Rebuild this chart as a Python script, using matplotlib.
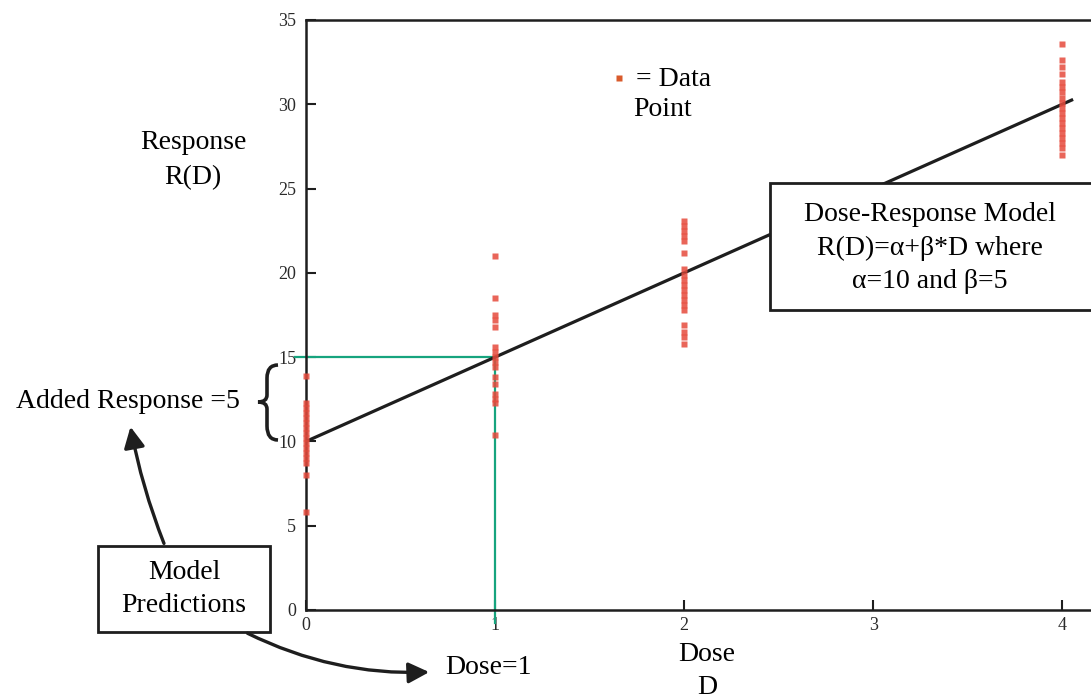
import numpy as np
import matplotlib.pyplot as plt
from matplotlib.patches import Rectangle, FancyArrowPatch, PathPatch
from matplotlib.path import Path

plt.rcParams['font.family'] = ['Liberation Serif', 'DejaVu Serif']

dose_levels = [0, 1, 2, 4]
resp_d0 = [13.9, 12.3, 12.0, 11.7, 11.4, 11.1, 10.8, 10.5, 10.2, 9.9, 9.6, 9.3, 9.0, 8.7, 8.0, 5.8]
resp_d1 = [21.0, 18.5, 17.5, 17.2, 16.8, 15.6, 15.3, 15.0, 14.7, 14.4, 13.8, 13.4, 12.8, 12.5, 12.3, 10.4]
resp_d2 = [23.1, 22.8, 22.5, 22.2, 21.9, 21.2, 20.2, 19.9, 19.6, 19.3, 19.0, 18.7, 18.4, 18.1, 17.8,
           16.9, 16.5, 16.2, 15.8]
resp_d4 = [33.6, 32.6, 32.2, 31.8, 31.3, 31.0, 30.7, 30.4, 30.1, 29.8, 29.5, 29.2, 28.9, 28.6, 28.3,
           28.0, 27.7, 27.4, 27.0]

alpha, beta = 10, 5
line_dose = [0, 4.05]
ref_dose = 1
xticks = [0, 1, 2, 3, 4]
yticks = [0, 5, 10, 15, 20, 25, 30, 35]

W, H = 1091, 699
fig = plt.figure(figsize=(W / 100, H / 100), dpi=100)


def px(x, y):
    # pixel position (from top-left) -> figure fraction
    return x / W, 1 - y / H


ax = fig.add_axes([306 / W, 89 / H, 794 / W, 590 / H])
ax.set_xlim(0, 4.2)
ax.set_ylim(0, 35)

red = '#e64a3c'
for d, vals in zip(dose_levels, [resp_d0, resp_d1, resp_d2, resp_d4]):
    ax.plot([d] * len(vals), vals, 's', ms=4, color=red, mec='none', alpha=0.85, zorder=4, clip_on=False)

xs = np.array(line_dose)
ax.plot(xs, alpha + beta * xs, color='#1e1e1e', lw=2.3, zorder=3)

# green guide lines for dose = 1
green = '#16a47e'
ax.plot([-0.06, ref_dose], [alpha + beta * ref_dose] * 2, color=green, lw=1.6, clip_on=False, zorder=2)
ax.plot([ref_dose, ref_dose], [-0.75, alpha + beta * ref_dose], color=green, lw=1.6, clip_on=False, zorder=2)

for side in ['top', 'left', 'bottom']:
    ax.spines[side].set_linewidth(1.8)
    ax.spines[side].set_color('#1e1e1e')
ax.spines['right'].set_visible(False)
ax.set_xticks(xticks)
ax.set_yticks(yticks)
ax.tick_params(direction='in', length=7, width=1.5, labelsize=13, colors='#1e1e1e', labelcolor='#2a2a2a')
ax.tick_params(axis='x', pad=5)
ax.tick_params(axis='y', pad=7)

fs = 20
fig.text(*px(193, 160), 'Response\nR(D)', ha='center', va='center', fontsize=fs, linespacing=1.5)
fig.text(*px(707, 671), 'Dose\nD', ha='center', va='center', fontsize=fs, linespacing=1.46)

# legend-ish note
fig.lines.append(plt.Line2D([619 / W], [1 - 78 / H], marker='s', ms=4.5, color='#d95a2b', mec='none',
                            transform=fig.transFigure))
fig.text(*px(636, 80), '= Data', ha='left', va='center', fontsize=fs)
fig.text(*px(663, 110), 'Point', ha='center', va='center', fontsize=fs)

# model box
fig.patches.append(Rectangle(px(770, 310), 340 / W, 127 / H, transform=fig.transFigure,
                             facecolor='white', edgecolor='#1e1e1e', lw=2, zorder=2))
fig.text(*px(930, 248), 'Dose-Response Model\nR(D)=α+β*D where\nα=10 and β=5', ha='center', va='center',
         fontsize=fs, linespacing=1.45, zorder=3)

# predictions box
fig.patches.append(Rectangle(px(98, 632), 172 / W, 86 / H, transform=fig.transFigure,
                             facecolor='white', edgecolor='#1e1e1e', lw=2, zorder=2))
fig.text(*px(184, 589), 'Model\nPredictions', ha='center', va='center', fontsize=fs, linespacing=1.37, zorder=3)

fig.text(*px(240, 402), 'Added Response =5', ha='right', va='center', fontsize=fs)
fig.text(*px(445, 668), 'Dose=1', ha='left', va='center', fontsize=fs)

# curly brace
bp = [(278, 365), (267, 365), (267, 378), (267, 395), (267, 402), (258, 402),
      (267, 402), (267, 409), (267, 426), (267, 440), (278, 440)]
codes = [Path.MOVETO, Path.CURVE3, Path.CURVE3, Path.LINETO, Path.CURVE3, Path.CURVE3,
         Path.CURVE3, Path.CURVE3, Path.LINETO, Path.CURVE3, Path.CURVE3]
fig.patches.append(PathPatch(Path([px(*p) for p in bp], codes), transform=fig.transFigure,
                             facecolor='none', edgecolor='#1e1e1e', lw=2.6, zorder=3))

# arrows from the predictions box
arr_kw = dict(transform=fig.transFigure, arrowstyle='-|>,head_length=0.7,head_width=0.35',
              mutation_scale=18, color='#1e1e1e', lw=2.4, zorder=3)
fig.patches.append(FancyArrowPatch(px(165, 546), px(130, 424), connectionstyle='arc3,rad=-0.05', **arr_kw))
fig.patches.append(FancyArrowPatch(px(245, 632), px(432, 672), connectionstyle='arc3,rad=0.13', **arr_kw))

fig.savefig('out.png', dpi=100)
